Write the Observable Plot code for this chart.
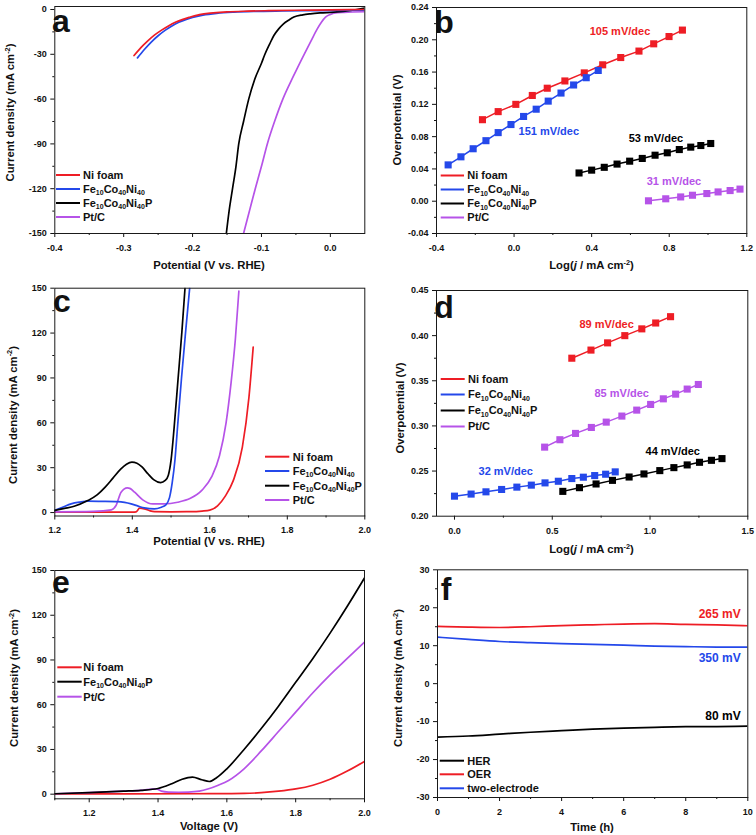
<!DOCTYPE html>
<html><head><meta charset="utf-8">
<script src="https://cdn.jsdelivr.net/npm/d3@7"></script>
<script src="https://cdn.jsdelivr.net/npm/@observablehq/plot@0.6"></script>
<style>
body{margin:0;background:#fff;}
#fig{position:relative;width:756px;height:835px;overflow:hidden;background:#fff;}
.pnl{position:absolute;}
.pnl svg{overflow:visible;}
</style></head><body><div id="fig"></div>
<script>
// ---------- Panel a: HER polarization ----------
const aNiV  = [-0.285,-0.275,-0.265,-0.255,-0.245,-0.235,-0.225,-0.215,-0.205,-0.19,-0.17,-0.15,-0.12,-0.09,-0.05,0,0.05];
const aNiJ  = [-30.8,-25.5,-21,-17,-13.8,-11,-8.6,-6.8,-5.3,-3.4,-2.3,-1.6,-1.1,-0.8,-0.5,-0.3,0];
const aFcnV = [-0.28,-0.27,-0.26,-0.25,-0.24,-0.23,-0.22,-0.21,-0.2,-0.185,-0.165,-0.14,-0.11,-0.07,-0.03,0.01,0.05];
const aFcnJ = [-32.4,-26.8,-21.8,-17.6,-14,-11,-8.6,-6.8,-5.3,-3.8,-2.6,-1.8,-1.3,-1,-0.8,-0.6,-0.5];
const aPV   = [-0.151,-0.147,-0.142,-0.137,-0.133,-0.126,-0.1185,-0.11,-0.1,-0.095,-0.088,-0.082,-0.075,-0.068,-0.06,-0.053,-0.04,-0.029,-0.015,0.005,0.03,0.05];
const aPJ   = [-150,-135,-120,-105,-90,-75,-60,-47,-36,-30,-23,-17.4,-13,-9.6,-7,-5.1,-3.6,-2.9,-2.3,-1.8,-0.6,1.0];
const aPtV  = [-0.126,-0.1175,-0.109,-0.1,-0.0915,-0.081,-0.069,-0.054,-0.038,-0.028,-0.019,-0.013,-0.007,0.0,0.005,0.02,0.05];
const aPtJ  = [-150,-135,-120,-105,-90,-75,-60,-45,-30,-21,-13,-8.5,-5.1,-3.3,-2.5,-1.9,-1.5];
const aXTicks = [-0.4,-0.3,-0.2,-0.1,0], aXMinor = [-0.35,-0.25,-0.15,-0.05];
const aYTicks = [-150,-120,-90,-60,-30,0], aYMinor = [-135,-105,-75,-45,-15];

// ---------- Panel b: HER Tafel ----------
const bNiX  = [-0.163,-0.082,0.009,0.094,0.171,0.262,0.362,0.457,0.55,0.644,0.72,0.799,0.868];
const bNiY  = [0.101,0.111,0.120,0.131,0.140,0.149,0.159,0.169,0.178,0.186,0.195,0.204,0.212];
const bFcnX = [-0.340,-0.274,-0.211,-0.145,-0.082,-0.016,0.049,0.114,0.176,0.242,0.307,0.372,0.434];
const bFcnY = [0.045,0.055,0.065,0.075,0.085,0.095,0.105,0.114,0.124,0.134,0.144,0.153,0.162];
const bPX   = [0.335,0.40,0.465,0.531,0.596,0.661,0.727,0.790,0.852,0.911,0.963,1.014];
const bPY   = [0.035,0.0385,0.042,0.046,0.0496,0.053,0.057,0.060,0.064,0.067,0.069,0.0715];
const bPtX  = [0.693,0.782,0.859,0.92,0.994,1.052,1.114,1.165];
const bPtY  = [0.0005,0.003,0.0053,0.0074,0.0095,0.0115,0.0132,0.015];
const bSlopeText = ["105 mV/dec","151 mV/dec","53 mV/dec","31 mV/dec"];
const bXTicks = [-0.4,0,0.4,0.8,1.2], bXMinor = [-0.2,0.2,0.6,1.0];
const bYTicks = [-0.04,0,0.04,0.08,0.12,0.16,0.20,0.24], bYMinor = [-0.02,0.02,0.06,0.10,0.14,0.18,0.22];

// ---------- Panel c: OER polarization ----------
const cNiV  = [1.2,1.3,1.4,1.41,1.419,1.431,1.445,1.457,1.5,1.55,1.58,1.6,1.62,1.64,1.66,1.684,1.701,1.712];
const cNiJ  = [0.3,0.3,0.3,0.5,2.9,2.5,1.2,0.6,0.5,0.6,1,1.6,4.5,11,21,43.7,77,110.6];
const cFcnV = [1.2,1.22,1.242,1.265,1.285,1.32,1.363,1.38,1.397,1.415,1.431,1.457,1.475,1.486,1.496,1.503,1.51,1.517,1.527,1.538,1.548];
const cFcnJ = [1.5,3.5,5.8,7,7.6,7.5,7.3,6.8,5.8,4.3,3.1,2.5,3.6,5,10,20,35,58,90,122,150];
const cPV   = [1.2,1.225,1.25,1.285,1.31,1.33,1.35,1.37,1.385,1.399,1.412,1.425,1.44,1.455,1.473,1.485,1.493,1.5,1.508,1.518,1.528,1.536];
const cPJ   = [1.5,2.8,4.2,8,12,17,23,29,32.3,33.7,33,30.5,26,22,20,21.5,25,35,57,89,121,150];
const cPtV  = [1.2,1.3,1.346,1.358,1.371,1.387,1.395,1.406,1.427,1.453,1.483,1.517,1.55,1.58,1.605,1.625,1.642,1.655,1.666,1.675];
const cPtJ  = [0.5,0.8,1.8,4.7,13.6,16.5,16,13.6,8.5,5.8,5.8,6.9,9.5,15,24,38,60,87,116,148];
const cXTicks = [1.2,1.4,1.6,1.8,2.0], cXMinor = [1.3,1.5,1.7,1.9];
const cYTicks = [0,30,60,90,120,150], cYMinor = [15,45,75,105,135];

// ---------- Panel d: OER Tafel ----------
const dNiX  = [0.600,0.698,0.783,0.871,0.958,1.029,1.105];
const dNiY  = [0.375,0.384,0.392,0.400,0.4075,0.414,0.421];
const dFcnX = [0.0,0.085,0.161,0.241,0.319,0.393,0.463,0.531,0.6,0.659,0.717,0.773,0.822];
const dFcnY = [0.2222,0.2245,0.2270,0.2296,0.2322,0.2344,0.2369,0.2387,0.2417,0.2432,0.2450,0.2465,0.2491];
const dPX   = [0.554,0.639,0.724,0.808,0.893,0.969,1.05,1.122,1.19,1.253,1.314,1.368];
const dPY   = [0.2275,0.2316,0.2357,0.2397,0.2434,0.2468,0.2505,0.2538,0.2568,0.2597,0.2619,0.2638];
const dPtX  = [0.461,0.539,0.619,0.700,0.776,0.856,0.932,1.003,1.068,1.131,1.190,1.247];
const dPtY  = [0.2765,0.2847,0.2917,0.2983,0.3042,0.3109,0.3175,0.3238,0.33,0.3352,0.3408,0.3459];
const dSlopeText = ["89 mV/dec","85 mV/dec","44 mV/dec","32 mV/dec"];
const dXTicks = [0,0.5,1.0,1.5], dXMinor = [0.25,0.75,1.25];
const dYTicks = [0.20,0.25,0.30,0.35,0.40,0.45], dYMinor = [0.225,0.275,0.325,0.375,0.425];

// ---------- Panel e: two-electrode polarization ----------
const eNiV  = [1.1,1.3,1.5,1.6,1.65,1.7,1.75,1.8,1.85,1.9,1.95,2.0];
const eNiJ  = [0.2,0.2,0.3,0.4,0.5,1.0,2,3.5,6,10,15.5,22];
const ePV   = [1.1,1.2,1.3,1.35,1.4,1.44,1.47,1.5,1.527,1.549,1.57,1.6,1.65,1.7,1.75,1.8,1.85,1.9,1.95,2.0];
const ePJ   = [0.3,1,2,2.6,3.8,7,10,11.4,9.7,8.5,11,17,30,44,59,75,91,108,126,145];
const ePtV  = [1.1,1.2,1.3,1.35,1.395,1.41,1.43,1.46,1.488,1.52,1.547,1.575,1.605,1.65,1.7,1.75,1.8,1.85,1.9,1.95,2.0];
const ePtJ  = [0.3,1,2,2.6,3.6,2,1.4,1.3,1.4,2,3.6,6,9.2,17,29,42,55,68,80,91,102];
const eXTicks = [1.2,1.4,1.6,1.8,2.0], eXMinor = [1.1,1.3,1.5,1.7,1.9];
const eYTicks = [0,30,60,90,120,150], eYMinor = [15,45,75,105,135];

// ---------- Panel f: stability ----------
const fT    = [0,1,2,3,4,5,6,7,8,9,10];
const fOER  = [15.08,14.9,14.8,15.0,15.3,15.5,15.7,15.8,15.6,15.5,15.26];
const fTwo  = [12.26,11.65,11.1,10.8,10.55,10.35,10.15,9.9,9.75,9.65,9.6];
const fHER  = [-14.1,-13.8,-13.3,-12.8,-12.4,-12.0,-11.7,-11.5,-11.35,-11.3,-11.2];
const fLabelText = ["265 mV","350 mV","80 mV"];
const fXTicks = [0,2,4,6,8,10], fXMinor = [1,3,5,7,9];
const fYTicks = [-30,-20,-10,0,10,20,30], fYMinor = [-25,-15,-5,5,15,25];

// ---------- styling ----------
const RED = "#ee1d25", BLUE = "#2448ea", BLACK = "#000000", PINK = "#b653e8";
const FONT = '"Liberation Sans", Arial, Helvetica, sans-serif';
const zip = (xs, ys) => xs.map((x, i) => ({x, y: ys[i]}));
const f1 = d => d.toFixed(1), f2 = d => d.toFixed(2), f0 = d => String(d);

const CUR = [["Current density (mA cm","n"],["-2","sup"],[")","n"]];
const LOGJ = [["Log(","n"],["j","i"],[" / mA cm","n"],["-2","sup"],[")","n"]];
const FCN = [["Fe","n"],["10","sub"],["Co","n"],["40","sub"],["Ni","n"],["40","sub"]];
const FCNP = FCN.concat([["P","n"]]);

function richText(sel, {x, y, rotate = false, size, weight = "bold", anchor = "middle", fill = "#111", parts}) {
  const off = 0.36 * size;
  const tr = rotate ? `translate(${x + off},${y}) rotate(-90)` : `translate(${x},${y + off})`;
  const t = sel.append("text").attr("transform", tr).attr("text-anchor", anchor)
    .attr("font-size", size).attr("font-weight", weight).attr("font-family", FONT).attr("fill", fill);
  let shift = 0;
  for (const [txt, kind] of parts) {
    const ts = t.append("tspan").text(txt);
    let target = 0;
    if (kind === "sup") { ts.attr("font-size", size * 0.65); target = -size * 0.4; }
    else if (kind === "sub") { ts.attr("font-size", 7); target = 2.4; }
    else if (kind === "i") { ts.attr("font-style", "italic"); }
    if (target - shift !== 0) ts.attr("dy", target - shift);
    shift = target;
  }
  return t;
}

function legend(sel, {x0, x1, tx, rows, size = 11}) {
  for (const r of rows) {
    sel.append("line").attr("x1", x0).attr("x2", x1).attr("y1", r.y).attr("y2", r.y)
      .attr("stroke", r.color).attr("stroke-width", 2);
    richText(sel, {x: tx, y: r.y, size, anchor: "start", parts: r.parts});
  }
}

function panel(cfg) {
  const [mt, mr, mb, ml] = cfg.m;
  const svg = Plot.plot({
    width: 378, height: cfg.height,
    marginTop: mt, marginRight: mr, marginBottom: mb, marginLeft: ml,
    x: {domain: cfg.xDomain}, y: {domain: cfg.yDomain},
    style: {fontFamily: FONT, fontSize: "9px", fontWeight: "bold", color: "#111", background: "transparent", overflow: "visible"},
    marks: [
      Plot.axisX({ticks: cfg.xMinor, tickSize: 2, tickFormat: () => "", label: null}),
      Plot.axisX({ticks: cfg.xTicks, tickSize: 4, tickPadding: 7, tickFormat: cfg.xFmt, label: null}),
      Plot.axisY({ticks: cfg.yMinor, tickSize: 2, tickFormat: () => "", label: null}),
      Plot.axisY({ticks: cfg.yTicks, tickSize: 4, tickPadding: 4, tickFormat: cfg.yFmt, label: null}),
      ...cfg.marks,
      Plot.frame({stroke: "#1a1a1a", strokeWidth: 1})
    ]
  });
  const div = document.createElement("div");
  div.className = "pnl";
  div.style.left = cfg.left + "px";
  div.style.top = cfg.top + "px";
  div.appendChild(svg);
  document.getElementById("fig").appendChild(div);
  const s = d3.select(svg);
  s.append("text").attr("x", cfg.letter[0]).attr("y", cfg.letter[1]).attr("font-size", 32)
    .attr("font-weight", "bold").attr("font-family", FONT).attr("fill", "#111").text(cfg.letter[2]);
  richText(s, {x: cfg.yTitle[0], y: cfg.yTitle[1], rotate: true, size: 11.3, parts: cfg.yTitle[2]});
  richText(s, {x: cfg.xTitle[0], y: cfg.xTitle[1], size: 11.3, parts: cfg.xTitle[2]});
  legend(s, cfg.legend);
  return s;
}

const curve = (xs, ys, color) => Plot.line(zip(xs, ys), {x: "x", y: "y", stroke: color, strokeWidth: 1.7, curve: "monotone-x", clip: true});
const tafel = (xs, ys, color) => [
  Plot.line(zip(xs, ys), {x: "x", y: "y", stroke: color, strokeWidth: 1.5}),
  Plot.dot(zip(xs, ys), {x: "x", y: "y", symbol: "square", r: 4, fill: color, stroke: "none"})
];
const label = (x, y, text, color, anchor = "start", size = 11) =>
  Plot.text([{x, y, t: text}], {x: "x", y: "y", text: "t", fill: color, fontSize: size, fontWeight: "bold", textAnchor: anchor, lineAnchor: "middle"});

// ---- a ----
panel({
  left: 0, top: 0, height: 275, m: [6, 13.7, 42, 54.3],
  xDomain: [-0.4, 0.05], yDomain: [-150, 2],
  xTicks: aXTicks, xMinor: aXMinor, yTicks: aYTicks, yMinor: aYMinor, xFmt: f1, yFmt: f0,
  marks: [curve(aPtV, aPtJ, PINK), curve(aPV, aPJ, BLACK), curve(aFcnV, aFcnJ, BLUE), curve(aNiV, aNiJ, RED)],
  letter: [61, 32, "a"],
  yTitle: [10, 112.5, CUR], xTitle: [209, 265, [["Potential (V vs. RHE)","n"]]],
  legend: {x0: 56, x1: 80, tx: 83, rows: [
    {y: 175, color: RED, parts: [["Ni foam","n"]]},
    {y: 189, color: BLUE, parts: FCN},
    {y: 203, color: BLACK, parts: FCNP},
    {y: 217, color: PINK, parts: [["Pt/C","n"]]}]}
});

// ---- b ----
panel({
  left: 378, top: 0, height: 275, m: [7, 9.7, 42, 58],
  xDomain: [-0.4, 1.2], yDomain: [-0.04, 0.24],
  xTicks: bXTicks, xMinor: bXMinor, yTicks: bYTicks, yMinor: bYMinor, xFmt: f1, yFmt: f2,
  marks: [...tafel(bNiX, bNiY, RED), ...tafel(bFcnX, bFcnY, BLUE), ...tafel(bPX, bPY, BLACK), ...tafel(bPtX, bPtY, PINK),
    label(0.39, 0.2103, bSlopeText[0], RED), label(0.023, 0.0864, bSlopeText[1], BLUE),
    label(0.591, 0.0777, bSlopeText[2], BLACK), label(0.684, 0.0244, bSlopeText[3], PINK)],
  letter: [66, 33, "b"],
  yTitle: [19.3, 120, [["Overpotential (V)","n"]]], xTitle: [213.5, 265, LOGJ],
  legend: {x0: 62.7, x1: 86, tx: 89.3, rows: [
    {y: 175.5, color: RED, parts: [["Ni foam","n"]]},
    {y: 189.5, color: BLUE, parts: FCN},
    {y: 203.5, color: BLACK, parts: FCNP},
    {y: 217.5, color: PINK, parts: [["Pt/C","n"]]}]}
});

// ---- c ----
panel({
  left: 0, top: 275, height: 275, m: [12.7, 13.7, 34.5, 54.3],
  xDomain: [1.2, 2.0], yDomain: [-2.3, 150],
  xTicks: cXTicks, xMinor: cXMinor, yTicks: cYTicks, yMinor: cYMinor, xFmt: f1, yFmt: f0,
  marks: [curve(cNiV, cNiJ, RED), curve(cPtV, cPtJ, PINK), curve(cFcnV, cFcnJ, BLUE), curve(cPV, cPJ, BLACK)],
  letter: [62, 37, "c"],
  yTitle: [12.8, 140, CUR], xTitle: [209, 265.7, [["Potential (V vs. RHE)","n"]]],
  legend: {x0: 265, x1: 289.3, tx: 292.7, rows: [
    {y: 181.7, color: RED, parts: [["Ni foam","n"]]},
    {y: 196, color: BLUE, parts: FCN},
    {y: 210.7, color: BLACK, parts: FCNP},
    {y: 225, color: PINK, parts: [["Pt/C","n"]]}]}
});

// ---- d ----
panel({
  left: 378, top: 275, height: 275, m: [15, 8.7, 34.3, 58],
  xDomain: [-0.092, 1.5], yDomain: [0.2, 0.45],
  xTicks: dXTicks, xMinor: dXMinor, yTicks: dYTicks, yMinor: dYMinor, xFmt: f1, yFmt: f2,
  marks: [...tafel(dNiX, dNiY, RED), ...tafel(dFcnX, dFcnY, BLUE), ...tafel(dPX, dPY, BLACK), ...tafel(dPtX, dPtY, PINK),
    label(0.639, 0.4123, dSlopeText[0], RED), label(0.716, 0.3359, dSlopeText[1], PINK),
    label(0.977, 0.2717, dSlopeText[2], BLACK), label(0.123, 0.2495, dSlopeText[3], BLUE)],
  letter: [66, 43, "d"],
  yTitle: [21.7, 133, [["Overpotential (V)","n"]]], xTitle: [213.5, 274, LOGJ],
  legend: {x0: 62.7, x1: 86.7, tx: 90, rows: [
    {y: 104, color: RED, parts: [["Ni foam","n"]]},
    {y: 119.5, color: BLUE, parts: FCN},
    {y: 135.5, color: BLACK, parts: FCNP},
    {y: 151.5, color: PINK, parts: [["Pt/C","n"]]}]}
});

// ---- e ----
panel({
  left: 0, top: 550, height: 285, m: [20, 14, 36.7, 54.3],
  xDomain: [1.1, 2.0], yDomain: [-3.1, 150],
  xTicks: eXTicks, xMinor: eXMinor, yTicks: eYTicks, yMinor: eYMinor, xFmt: f1, yFmt: f0,
  marks: [curve(eNiV, eNiJ, RED), curve(ePtV, ePtJ, PINK), curve(ePV, ePJ, BLACK)],
  letter: [61, 43.3, "e"],
  yTitle: [14, 128, CUR], xTitle: [209, 276, [["Voltage (V)","n"]]],
  legend: {x0: 57.3, x1: 81.7, tx: 83.3, rows: [
    {y: 117.3, color: RED, parts: [["Ni foam","n"]]},
    {y: 131.7, color: BLACK, parts: FCNP},
    {y: 146.7, color: PINK, parts: [["Pt/C","n"]]}]}
});

// ---- f ----
panel({
  left: 378, top: 550, height: 285, m: [19.3, 8.7, 38, 59],
  xDomain: [0, 10], yDomain: [-30, 30],
  xTicks: fXTicks, xMinor: fXMinor, yTicks: fYTicks, yMinor: fYMinor, xFmt: f0, yFmt: f0,
  marks: [curve(fT, fOER, RED), curve(fT, fTwo, BLUE), curve(fT, fHER, BLACK),
    label(9.77, 18.2, fLabelText[0], RED, "end", 12), label(9.77, 6.7, fLabelText[1], BLUE, "end", 12),
    label(9.77, -8.6, fLabelText[2], BLACK, "end", 12)],
  letter: [68, 50, "f"],
  yTitle: [20, 128, CUR], xTitle: [214, 276.7, [["Time (h)","n"]]],
  legend: {x0: 61.7, x1: 86, tx: 89.3, rows: [
    {y: 210.7, color: BLACK, parts: [["HER","n"]]},
    {y: 224.3, color: RED, parts: [["OER","n"]]},
    {y: 238.3, color: BLUE, parts: [["two-electrode","n"]]}]}
});
</script></body></html>
